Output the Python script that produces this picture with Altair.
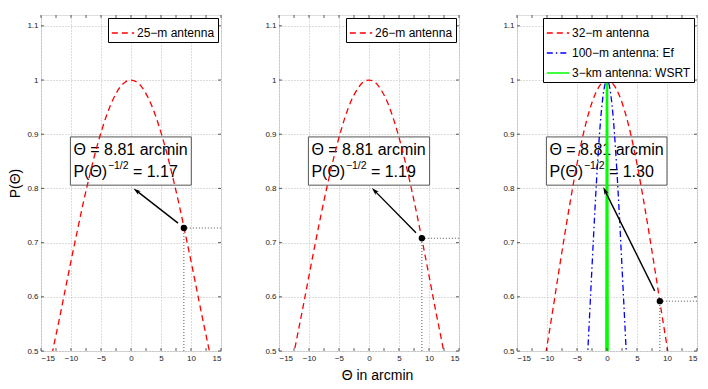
import math
import altair as alt
import pandas as pd

# ---------------- data ----------------
x_major = [-15, -10, -5, 0, 5, 10, 15]
x_minor = [-15, -12.5, -10, -7.5, -5, -2.5, 0, 2.5, 5, 7.5, 10, 12.5, 15]
y_major = [0.5, 0.6, 0.7, 0.8, 0.9, 1.0, 1.1]

x25 = [-13.5, -13, -12, -11, -10, -9, -8, -7, -6, -5, -4, -3, -2, -1, 0,
       1, 2, 3, 4, 5, 6, 7, 8, 9, 10, 11, 12, 13, 13.5]
y25 = [0.476, 0.503, 0.556, 0.611, 0.666, 0.719, 0.771, 0.819, 0.864, 0.903, 0.937, 0.964, 0.984, 0.996, 1.0,
       0.996, 0.984, 0.964, 0.937, 0.903, 0.864, 0.819, 0.771, 0.719, 0.666, 0.611, 0.556, 0.503, 0.476]

x26 = [-13, -12, -11, -10, -9, -8, -7, -6, -5, -4, -3, -2, -1, 0,
       1, 2, 3, 4, 5, 6, 7, 8, 9, 10, 11, 12, 13]
y26 = [0.469, 0.525, 0.581, 0.639, 0.696, 0.751, 0.803, 0.851, 0.894, 0.931, 0.961, 0.982, 0.996, 1.0,
       0.996, 0.982, 0.961, 0.931, 0.894, 0.851, 0.803, 0.751, 0.696, 0.639, 0.581, 0.525, 0.469]

x32 = [-11, -10, -9, -8, -7, -6, -5, -4, -3, -2, -1, 0, 1, 2, 3, 4, 5, 6, 7, 8, 9, 10, 11]
y32 = [0.441, 0.509, 0.578, 0.649, 0.718, 0.784, 0.845, 0.898, 0.941, 0.973, 0.993, 1.0,
       0.993, 0.973, 0.941, 0.898, 0.845, 0.784, 0.718, 0.649, 0.578, 0.509, 0.441]

x100 = [-3.5, -3, -2.5, -2, -1.5, -1, -0.5, 0, 0.5, 1, 1.5, 2, 2.5, 3, 3.5]
y100 = [0.436, 0.544, 0.655, 0.763, 0.859, 0.935, 0.983, 1.0, 0.983, 0.935, 0.859, 0.763, 0.655, 0.544, 0.436]

x3km = [-0.11, 0, 0.11]
y3km = [0.5, 1.0, 0.5]

series_names = ["25−m antenna", "26−m antenna", "32−m antenna", "100−m antenna: Ef", "3−km antenna: WSRT"]
series_colors = ["#ff0000", "#ff0000", "#ff0000", "#0000ff", "#00ff00"]
series_dash = [[6, 4], [6, 4], [6, 4], [6, 3, 1.5, 3], [1, 0]]

point_x = [8.81, 8.81, 8.81]
point_y = [0.727, 0.708, 0.592]
ratio_text = ["= 1.17", "= 1.19", "= 1.30"]
theta_text = "Θ = 8.81 arcmin"

arrow_tail_x = [7.84, 7.83, 7.95]
arrow_tail_y = [0.736, 0.718, 0.611]
arrow_head_x = [1.0, 1.0, -0.3]
arrow_head_y = [0.795, 0.795, 0.795]

box_x = [-10.1, -10.1, -10.1]
box_x2 = [10.05, 10.1, 10.0]
box_y = [0.806, 0.806, 0.806]
box_y2 = [0.895, 0.895, 0.895]
line1_y = 0.861
line2_y = 0.8215

panel_curves = [
    [(0, x25, y25)],
    [(1, x26, y26)],
    [(2, x32, y32), (3, x100, y100), (4, x3km, y3km)],
]

# ---------------- layout / style ----------------
W, H = 180, 336
XD = [-15, 15]
YD = [0.5, 1.12]
FONT = "Liberation Sans"


def make_panel(i):
    xs = alt.Scale(domain=XD, nice=False, zero=False)
    ys = alt.Scale(domain=YD, nice=False, zero=False)

    rows = []
    for (si, xv, yv) in panel_curves[i]:
        for a, b in zip(xv, yv):
            rows.append({"series": series_names[si], "x": a, "y": b})
    cdf = pd.DataFrame(rows)
    idxs = [c[0] for c in panel_curves[i]]
    dom = [series_names[k] for k in idxs]
    col = [series_colors[k] for k in idxs]
    dsh = [series_dash[k] for k in idxs]

    xaxis = alt.Axis(values=x_major, grid=True, gridDash=[1, 2], gridColor="#a8a8a8",
                     gridWidth=0.8, ticks=False, domain=False, labelFontSize=8,
                     labelFont=FONT, labelColor="#222", labelPadding=3,
                     title="Θ in arcmin" if i == 1 else "", titleFont=FONT,
                     titleFontSize=14, titleFontWeight="normal", titleColor="#000",
                     titlePadding=6, titleX=W / 2 + 8)
    yaxis = alt.Axis(values=y_major, grid=True, gridDash=[1, 2], gridColor="#a8a8a8",
                     gridWidth=0.8, ticks=False, domain=False, labelFontSize=8,
                     labelFont=FONT, labelColor="#222", labelPadding=3,
                     labelExpr="datum.value == 1 ? '1' : format(datum.value, '.1f')",
                     title="P(Θ)" if i == 0 else "", titleFont=FONT,
                     titleFontSize=14, titleFontWeight="normal", titleColor="#000",
                     titlePadding=4)

    def X(f):
        return alt.X(f, type="quantitative", scale=xs, axis=xaxis)

    def Y(f):
        return alt.Y(f, type="quantitative", scale=ys, axis=yaxis)

    # text box
    bdf = pd.DataFrame({"x": [box_x[i]], "x2": [box_x2[i]], "y": [box_y[i]], "y2": [box_y2[i]]})
    box = alt.Chart(bdf).mark_rect(fill="white", stroke="#555", strokeWidth=1).encode(
        x=X("x"), x2="x2:Q", y=Y("y"), y2="y2:Q")

    tdf = pd.DataFrame({"x": [box_x[i]], "y1": [line1_y], "y2": [line2_y],
                        "t1": [theta_text], "t2": ["P(Θ)"], "t3": ["−1/2"], "t4": [ratio_text[i]]})
    base_t = alt.Chart(tdf)
    t1 = base_t.mark_text(align="left", baseline="alphabetic", dx=3, fontSize=16, font=FONT, color="#000").encode(
        x=X("x"), y=Y("y1"), text="t1:N")
    t2 = base_t.mark_text(align="left", baseline="alphabetic", dx=3, fontSize=16, font=FONT, color="#000").encode(
        x=X("x"), y=Y("y2"), text="t2:N")
    t3 = base_t.mark_text(align="left", baseline="alphabetic", dx=37.5, dy=-8, fontSize=10.5, font=FONT, color="#000").encode(
        x=X("x"), y=Y("y2"), text="t3:N")
    t4 = base_t.mark_text(align="left", baseline="alphabetic", dx=62.5, fontSize=16, font=FONT, color="#000").encode(
        x=X("x"), y=Y("y2"), text="t4:N")

    leg = dict(orient="top-right", title=None, offset=3, padding=3,
               strokeColor="#000", fillColor="white",
               labelFont=FONT, labelFontSize=12, labelColor="#000",
               symbolType="stroke", symbolSize=500, symbolStrokeWidth=1.3,
               rowPadding=2, labelOffset=2)
    curves = alt.Chart(cdf).mark_line(clip=True, interpolate="monotone").encode(
        x=X("x"), y=Y("y"),
        color=alt.Color("series:N", scale=alt.Scale(domain=dom, range=col), legend=alt.Legend(**leg)),
        strokeDash=alt.StrokeDash("series:N", scale=alt.Scale(domain=dom, range=dsh), legend=alt.Legend(**leg)),
        strokeWidth=alt.condition(alt.datum.series == "3−km antenna: WSRT", alt.value(2.4), alt.value(1.3)),
    )

    pdf = pd.DataFrame({"x": [point_x[i]], "y": [point_y[i]], "y0": [YD[0]], "x1": [XD[1]]})
    vdot = alt.Chart(pdf).mark_rule(color="#444", strokeDash=[1, 2], strokeWidth=0.9).encode(
        x=X("x"), y=Y("y0"), y2="y:Q")
    hdot = alt.Chart(pdf).mark_rule(color="#444", strokeDash=[1, 2], strokeWidth=0.9).encode(
        x=X("x"), x2="x1:Q", y=Y("y"))
    pt = alt.Chart(pdf).mark_circle(color="#000", size=40, opacity=1).encode(x=X("x"), y=Y("y"))

    # arrow
    dxp = (arrow_head_x[i] - arrow_tail_x[i]) * W / (XD[1] - XD[0])
    dyp = -(arrow_head_y[i] - arrow_tail_y[i]) * H / (YD[1] - YD[0])
    ang = math.degrees(math.atan2(dxp, -dyp)) % 360
    adf = pd.DataFrame({"x": [arrow_tail_x[i]], "y": [arrow_tail_y[i]],
                        "x2": [arrow_head_x[i]], "y2": [arrow_head_y[i]]})
    arr = alt.Chart(adf).mark_rule(color="#000", strokeWidth=1.4).encode(
        x=X("x"), y=Y("y"), x2="x2:Q", y2="y2:Q")
    head = alt.Chart(adf).mark_point(shape="M0,-1L-0.5,0.7L0,0.3L0.5,0.7Z", filled=True, color="#000",
                                     size=80, angle=ang, opacity=1).encode(x=X("x2"), y=Y("y2"))

    # inward ticks
    xtdf = pd.DataFrame({"x": x_minor})
    ytdf = pd.DataFrame({"y": y_major})
    tk = dict(color="#333", strokeWidth=0.8)
    xb = alt.Chart(xtdf).mark_rule(**tk).encode(x=X("x"), y=alt.value(H), y2=alt.value(H - 3))
    xt = alt.Chart(xtdf).mark_rule(**tk).encode(x=X("x"), y=alt.value(0), y2=alt.value(3))
    yl = alt.Chart(ytdf).mark_rule(**tk).encode(y=Y("y"), x=alt.value(0), x2=alt.value(3))
    yr = alt.Chart(ytdf).mark_rule(**tk).encode(y=Y("y"), x=alt.value(W - 3), x2=alt.value(W))

    return alt.layer(box, t1, t2, t3, t4, curves, vdot, hdot, arr, head, pt, xb, xt, yl, yr).properties(
        width=W, height=H)


chart = alt.hconcat(make_panel(0), make_panel(1), make_panel(2), spacing=42).resolve_scale(
    color="independent", strokeDash="independent", x="independent", y="independent"
).properties(
    padding={"left": 0, "top": 6, "right": 0, "bottom": 0}
).configure_view(stroke="#333", strokeWidth=1).configure(background="white")

chart.save("out.html", embed_options={"renderer": "svg", "actions": False})
